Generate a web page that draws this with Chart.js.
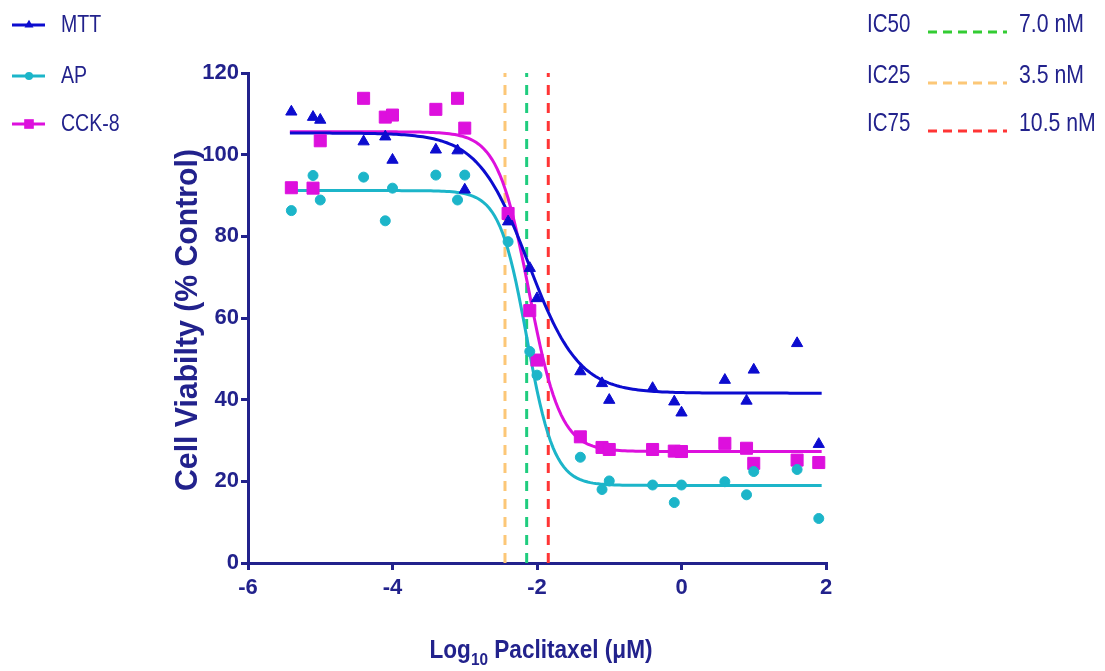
<!DOCTYPE html>
<html>
<head>
<meta charset="utf-8">
<script src="https://cdn.jsdelivr.net/npm/chart.js@4"></script>
<style>
  html, body { margin: 0; padding: 0; background: #fff; }
  #wrap { width: 1105px; height: 671px; }
</style>
</head>
<body>
<div id="wrap"><canvas id="viabilityChart"></canvas></div>
<script>
// log10 paclitaxel (uM) for each well
var doses = [-5.4, -5.1, -5.0, -4.4, -4.1, -4.0, -3.4, -3.1, -3.0, -2.4, -2.1, -2.0,
             -1.4, -1.1, -1.0, -0.4, -0.1, 0.0, 0.6, 0.9, 1.0, 1.6, 1.9];
var mttValues = [110.5, 109.2, 108.5, 103.2, 104.4, 98.7, 101.2, 101.0, 91.4, 83.6, 72.2, 64.8,
                 46.9, 44.0, 39.9, 42.8, 39.5, 36.8, 44.8, 39.7, 47.3, 53.8, 29.1];
var apValues = [86.3, 94.9, 88.9, 94.5, 83.8, 91.8, 95.0, 88.9, 95.0, 78.7, 51.8, 46.0,
                25.9, 18.0, 20.1, 19.1, 14.8, 19.1, 19.9, 16.7, 22.4, 22.9, 10.9];
var cckValues = [91.9, 91.8, 103.4, 113.8, 109.2, 109.7, 111.1, 113.8, 106.5, 85.6, 61.8, 49.7,
                 30.9, 28.3, 27.8, 27.8, 27.4, 27.3, 29.3, 28.1, 24.4, 25.2, 24.6];

// four-parameter fit: MTT, AP, CCK-8
var seriesNames = ['MTT', 'AP', 'CCK-8'];
var fitTop = [105.3, 91.2, 105.6];
var fitBottom = [41.6, 19.0, 27.3];
var fitLogIC50 = [-2.12, -2.14, -2.11];
var fitHill = [1.25, 2.3, 2.0];
var fitRange = [-5.42, 1.94];

// inhibitory concentration markers
var icNames = ['IC50', 'IC25', 'IC75'];
var icLabels = ['7.0 nM', '3.5 nM', '10.5 nM'];
var icLogDose = [-2.143, -2.443, -1.844];

var yTicks = [0, 20, 40, 60, 80, 100, 120];
var xTicks = [-6, -4, -2, 0, 2];

var navy = '#22228c';
var seriesColors = ['#0c0ccf', '#1cb5c9', '#dd10dd'];
var seriesShapes = ['triangle', 'circle', 'rect'];
var seriesRadius = [6.5, 5, 8.5];
var icColors = ['#1fcc7e', '#fcc777', '#ff3535'];
var legendIcColors = ['#33cc33', '#fcc777', '#ff3535'];
var fontName = '"Liberation Sans", Arial, sans-serif';

function fitCurve(i) {
  var pts = [];
  var n = 200;
  for (var k = 0; k <= n; k++) {
    var x = fitRange[0] + (fitRange[1] - fitRange[0]) * k / n;
    var y = fitBottom[i] + (fitTop[i] - fitBottom[i]) / (1 + Math.pow(10, (x - fitLogIC50[i]) * fitHill[i]));
    pts.push({ x: x, y: y });
  }
  return pts;
}

function toPoints(vals) {
  return doses.map(function (d, i) { return { x: d, y: vals[i] }; });
}

var rawSeries = [mttValues, apValues, cckValues];
var datasets = [];

rawSeries.forEach(function (vals, i) {
  datasets.push({
    type: 'scatter',
    label: seriesNames[i],
    data: toPoints(vals),
    pointStyle: seriesShapes[i],
    pointRadius: seriesRadius[i],
    pointBackgroundColor: seriesColors[i],
    pointBorderColor: seriesColors[i],
    pointBorderWidth: 1,
    showLine: false,
    order: 0
  });
});

rawSeries.forEach(function (vals, i) {
  datasets.push({
    type: 'line',
    label: seriesNames[i] + ' fit',
    data: fitCurve(i),
    borderColor: seriesColors[i],
    borderWidth: 3,
    pointRadius: 0,
    fill: false,
    order: 1
  });
});

icLogDose.forEach(function (x, i) {
  datasets.push({
    type: 'line',
    label: icNames[i],
    data: [{ x: x, y: 0 }, { x: x, y: 121 }],
    borderColor: icColors[i],
    borderWidth: 3,
    borderDash: [10, 8],
    pointRadius: 0,
    fill: false,
    order: 2
  });
});

function drawMarker(ctx, shape, x, y, r, color) {
  ctx.fillStyle = color;
  ctx.beginPath();
  if (shape === 'triangle') {
    ctx.moveTo(x, y - r);
    ctx.lineTo(x + r * 0.866, y + r * 0.5);
    ctx.lineTo(x - r * 0.866, y + r * 0.5);
    ctx.closePath();
  } else if (shape === 'circle') {
    ctx.arc(x, y, r, 0, Math.PI * 2);
  } else {
    var s = r * Math.SQRT1_2;
    ctx.rect(x - s, y - s, 2 * s, 2 * s);
  }
  ctx.fill();
}

// text in the original is tall and narrow, so squeeze it sideways
function squeezedText(ctx, text, x, y, sx) {
  ctx.save();
  ctx.translate(x, y);
  ctx.scale(sx, 1);
  ctx.fillText(text, 0, 0);
  ctx.restore();
}

var textPlugin = {
  id: 'texts',
  afterDraw: function (chart) {
    var ctx = chart.ctx;
    ctx.save();
    ctx.textBaseline = 'middle';
    ctx.textAlign = 'left';

    // left legend
    var rows = [25, 76, 124];
    seriesNames.forEach(function (name, i) {
      var y = rows[i];
      ctx.strokeStyle = seriesColors[i];
      ctx.lineWidth = 3;
      ctx.beginPath();
      ctx.moveTo(12, y);
      ctx.lineTo(45, y);
      ctx.stroke();
      drawMarker(ctx, seriesShapes[i], 29, y, seriesRadius[i] * 0.8, seriesColors[i]);
      ctx.fillStyle = navy;
      ctx.font = '23px ' + fontName;
      squeezedText(ctx, name, 61, y + 1, 0.85);
    });

    // right legend
    var icRows = [24, 75, 123];
    icNames.forEach(function (name, i) {
      var y = icRows[i];
      ctx.fillStyle = navy;
      ctx.font = '25px ' + fontName;
      squeezedText(ctx, name, 867, y + 1, 0.82);
      squeezedText(ctx, icLabels[i], 1019, y + 1, 0.85);
      ctx.strokeStyle = legendIcColors[i];
      ctx.lineWidth = 3;
      ctx.setLineDash([9, 6]);
      ctx.beginPath();
      ctx.moveTo(928, y + 8);
      ctx.lineTo(1007, y + 8);
      ctx.stroke();
      ctx.setLineDash([]);
    });

    // y axis title
    ctx.fillStyle = navy;
    ctx.save();
    ctx.translate(197, 320);
    ctx.rotate(-Math.PI / 2);
    ctx.font = 'bold 31px ' + fontName;
    ctx.textAlign = 'center';
    ctx.textBaseline = 'alphabetic';
    var yTitle = 'Cell Viabilty (% Control)';
    var ys = 342 / ctx.measureText(yTitle).width;
    ctx.scale(ys, 1);
    ctx.fillText(yTitle, 0, 0);
    ctx.restore();

    // x axis title with subscript
    var big = 'bold 25px ' + fontName;
    var small = 'bold 17px ' + fontName;
    ctx.font = big;
    var w1 = ctx.measureText('Log').width;
    var w3 = ctx.measureText(' Paclitaxel (\u03bcM)').width;
    ctx.font = small;
    var w2 = ctx.measureText('10').width;
    var total = w1 + w2 + w3;
    var xs = 223 / total;
    ctx.save();
    ctx.translate(541 - 223 / 2, 658);
    ctx.scale(xs, 1);
    ctx.textAlign = 'left';
    ctx.textBaseline = 'alphabetic';
    ctx.font = big;
    ctx.fillText('Log', 0, 0);
    ctx.font = small;
    ctx.fillText('10', w1, 7);
    ctx.font = big;
    ctx.fillText(' Paclitaxel (\u03bcM)', w1 + w2, 0);
    ctx.restore();
    ctx.restore();
  }
};

var ctx = document.getElementById('viabilityChart').getContext('2d');
var viabilityChart = new Chart(ctx, {
  data: { datasets: datasets },
  options: {
    responsive: true,
    maintainAspectRatio: false,
    animation: false,
    events: [],
    layout: { padding: { top: 73, right: 279, left: 0, bottom: 0 } },
    plugins: { legend: { display: false }, tooltip: { enabled: false } },
    scales: {
      x: {
        type: 'linear',
        min: -6,
        max: 2,
        afterFit: function (scale) { scale.height = 108; },
        afterBuildTicks: function (scale) { scale.ticks = xTicks.map(function (v) { return { value: v }; }); },
        grid: { drawOnChartArea: false, drawTicks: true, tickLength: 7, color: navy, lineWidth: 3 },
        border: { display: true, color: navy, width: 3 },
        ticks: { color: navy, font: { family: fontName, size: 22, weight: 'bold' }, padding: 5, maxRotation: 0 }
      },
      y: {
        type: 'linear',
        min: 0,
        max: 120,
        afterFit: function (scale) { scale.width = 248; },
        afterBuildTicks: function (scale) { scale.ticks = yTicks.map(function (v) { return { value: v }; }); },
        grid: { drawOnChartArea: false, drawTicks: true, tickLength: 7, color: navy, lineWidth: 3 },
        border: { display: true, color: navy, width: 3 },
        ticks: { color: navy, font: { family: fontName, size: 22, weight: 'bold' }, padding: 2 }
      }
    }
  },
  plugins: [textPlugin]
});
</script>
</body>
</html>
